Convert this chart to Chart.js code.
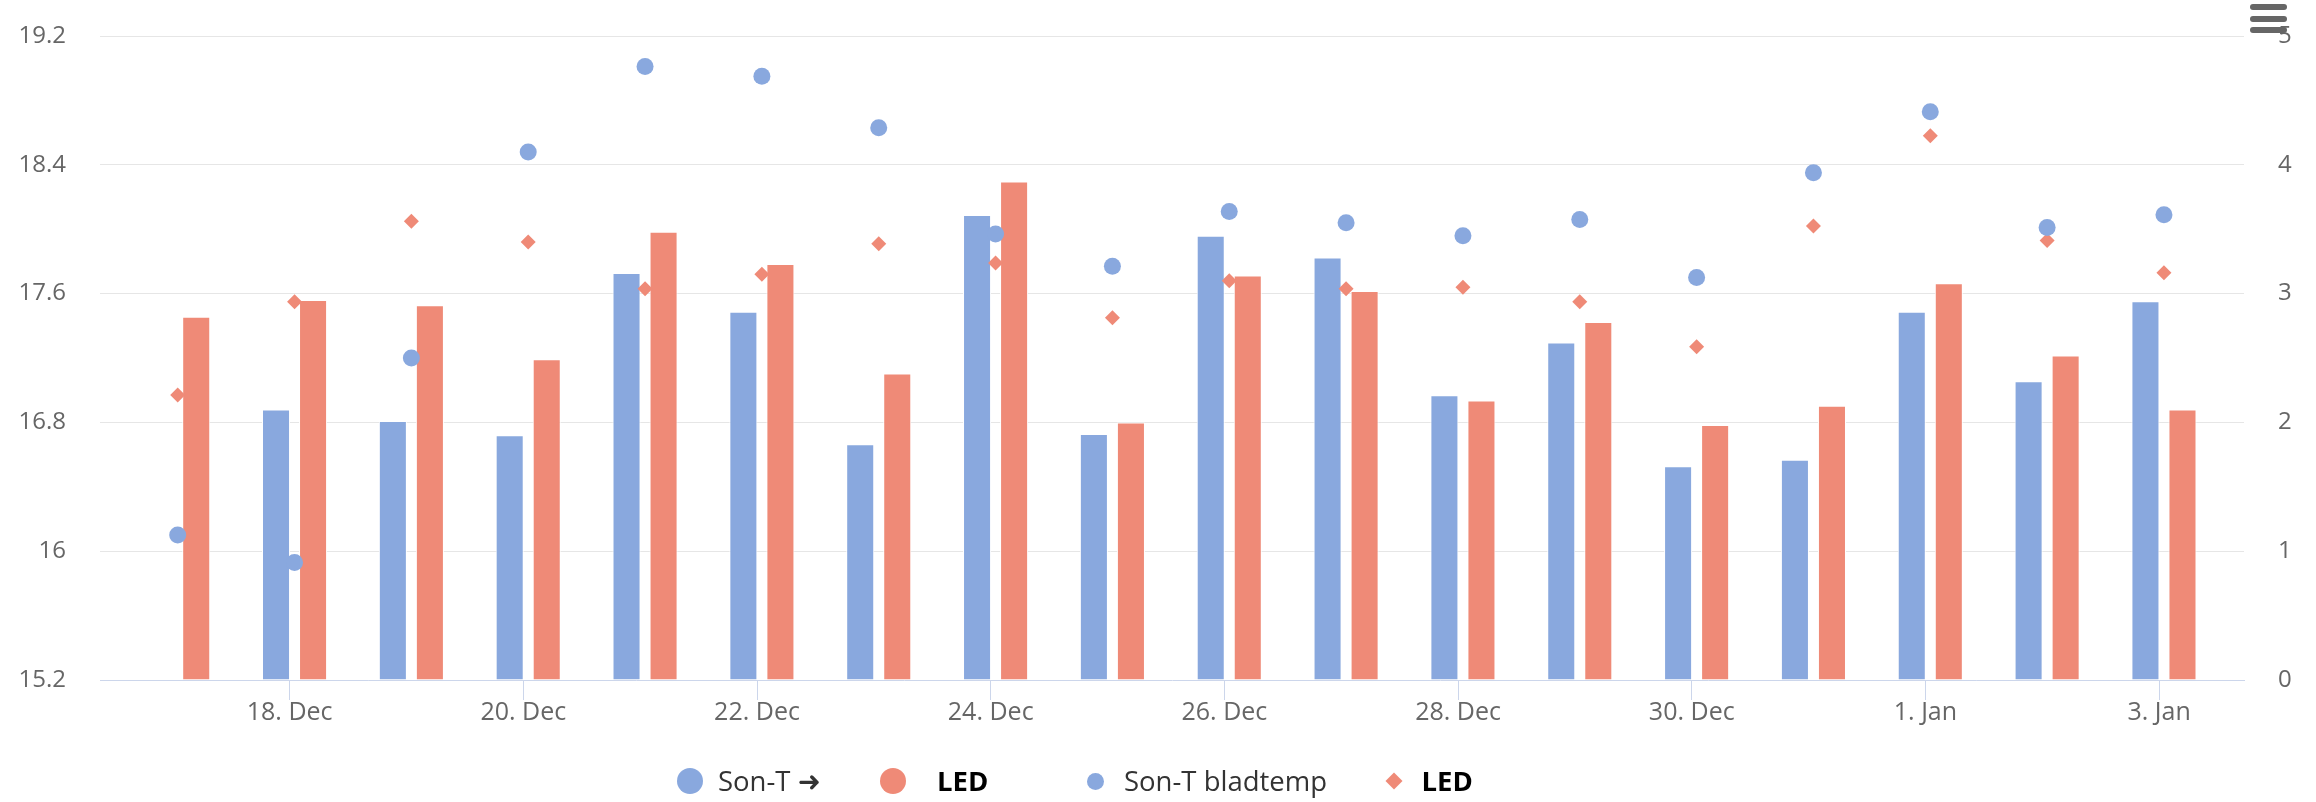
<!DOCTYPE html>
<html>
<head>
<meta charset="utf-8">
<title>Son-T / LED</title>
<script src="https://cdn.jsdelivr.net/npm/chart.js@4.4.1/dist/chart.umd.min.js"></script>
<style>
  html, body { margin: 0; padding: 0; background: #ffffff; }
  #wrap { position: relative; width: 2316px; height: 802px; overflow: hidden; font-family: 'Open Sans', 'DejaVu Sans', sans-serif; }
  #chart { position: absolute; left: 0; top: 0; }
  .lg-item { position: absolute; top: 767px; height: 28px; display: flex; align-items: center; white-space: nowrap; font-size: 27.5px; line-height: 28px; }
  .lg-sym { display: inline-block; flex: none; }
  #menu { position: absolute; left: 2250px; top: 4px; width: 37px; }
  #menu div { height: 6px; border-radius: 3px; background: #666666; margin-bottom: 5.5px; }
</style>
</head>
<body>
<div id="wrap">
  <canvas id="chart" width="2316" height="802"></canvas>
  <div id="legend"></div>
  <div id="menu"><div></div><div></div><div></div></div>
</div>
<script>
// Daily values, 17 Dec – 3 Jan
const days = ['17. Dec', '18. Dec', '19. Dec', '20. Dec', '21. Dec', '22. Dec', '23. Dec', '24. Dec', '25. Dec',
              '26. Dec', '27. Dec', '28. Dec', '29. Dec', '30. Dec', '31. Dec', '1. Jan', '2. Jan', '3. Jan'];

// Columns (right axis)
const sonTBars = [null, 2.10, 2.01, 1.90, 3.16, 2.86, 1.83, 3.61, 1.91, 3.45, 3.28, 2.21, 2.62, 1.66, 1.71, 2.86, 2.32, 2.94];
const ledBars  = [2.82, 2.95, 2.91, 2.49, 3.48, 3.23, 2.38, 3.87, 2.00, 3.14, 3.02, 2.17, 2.78, 1.98, 2.13, 3.08, 2.52, 2.10];

// Leaf temperature (left axis)
const sonTLeaf = [16.10, 15.93, 17.20, 18.48, 19.01, 18.95, 18.63, 17.97, 17.77, 18.11, 18.04, 17.96, 18.06, 17.70, 18.35, 18.73, 18.01, 18.09];
const ledLeaf  = [16.97, 17.55, 18.05, 17.92, 17.63, 17.72, 17.91, 17.79, 17.45, 17.68, 17.63, 17.64, 17.55, 17.27, 18.02, 18.58, 17.93, 17.73];

// Axis tick labels
const xTickLabels = ['18. Dec', '20. Dec', '22. Dec', '24. Dec', '26. Dec', '28. Dec', '30. Dec', '1. Jan', '3. Jan'];
const yLeftTicks  = ['15.2', '16', '16.8', '17.6', '18.4', '19.2'];
const yRightTicks = ['0', '1', '2', '3', '4', '5'];

const BLUE = '#89a8de';
const RED  = '#ef8a77';
const FONT = "'Open Sans', 'DejaVu Sans', sans-serif";
const NONE = 'rgba(0,0,0,0)';

// Points are stamped at local midnight (CET), the axis ticks sit on UTC midnight.
const TZ_SHIFT = 1 / 24;

const toPoints = vals => vals.map((v, i) => ({ x: i, y: v }));
const xTickValues = xTickLabels.map(l => days.indexOf(l) - TZ_SHIFT);

const chart = new Chart(document.getElementById('chart'), {
  type: 'bar',
  data: {
    datasets: [
      { type: 'bar', label: 'Son-T \u279C', data: toPoints(sonTBars), yAxisID: 'y2', order: 2,
        backgroundColor: BLUE, borderColor: '#ffffff', borderWidth: 1,
        categoryPercentage: 0.634, barPercentage: 0.757 },
      { type: 'bar', label: 'LED', data: toPoints(ledBars), yAxisID: 'y2', order: 2,
        backgroundColor: RED, borderColor: '#ffffff', borderWidth: 1,
        categoryPercentage: 0.634, barPercentage: 0.757 },
      { type: 'scatter', label: 'Son-T bladtemp', data: toPoints(sonTLeaf), yAxisID: 'y', order: 1,
        pointStyle: 'circle', pointRadius: 8.5, pointHoverRadius: 8.5,
        backgroundColor: BLUE, borderColor: BLUE, borderWidth: 0 },
      { type: 'scatter', label: 'LED', data: toPoints(ledLeaf), yAxisID: 'y', order: 1,
        pointStyle: 'rectRot', pointRadius: 7.5, pointHoverRadius: 7.5,
        backgroundColor: RED, borderColor: RED, borderWidth: 0 }
    ]
  },
  options: {
    responsive: false,
    animation: false,
    layout: { padding: { top: 36, bottom: 72, left: 0, right: 0 } },
    plugins: { legend: { display: false }, tooltip: { enabled: false } },
    scales: {
      x: {
        type: 'linear', min: -0.665, max: 17.685, offset: false,
        afterBuildTicks: s => { s.ticks = xTickValues.map(v => ({ value: v })); },
        afterFit: s => { s.height = 50; },
        ticks: { autoSkip: false, maxRotation: 0, padding: -2, color: '#666666',
                 font: { family: FONT, size: 25 },
                 callback: (v, i) => xTickLabels[i] },
        grid: { offset: false, drawOnChartArea: false, drawTicks: true, tickLength: 20, color: '#ccd6eb', lineWidth: 1 },
        border: { display: true, color: '#ccd6eb', width: 1 }
      },
      y: {
        type: 'linear', position: 'left', min: 15.2, max: 19.2,
        afterBuildTicks: s => { s.ticks = yLeftTicks.map(t => ({ value: parseFloat(t) })); },
        afterFit: s => { s.width = 100; },
        ticks: { padding: 0, color: '#666666', font: { family: FONT, size: 24 },
                 callback: (v, i) => yLeftTicks[i] },
        // the (invisible) tick marks keep the labels 34px off the plot
        grid: { drawTicks: true, tickLength: 34, tickColor: NONE, lineWidth: 1,
                color: ctx => ctx.index === 0 ? NONE : '#e6e6e6' },
        border: { display: false }
      },
      y2: {
        type: 'linear', position: 'right', min: 0, max: 5,
        afterBuildTicks: s => { s.ticks = yRightTicks.map(t => ({ value: parseFloat(t) })); },
        afterFit: s => { s.width = 72; },
        ticks: { padding: 0, color: '#666666', font: { family: FONT, size: 24 },
                 callback: (v, i) => yRightTicks[i] },
        grid: { drawOnChartArea: false, drawTicks: true, tickLength: 34, tickColor: NONE, color: NONE },
        border: { display: false }
      }
    }
  }
});

// Legend below the plot, built from the chart's datasets
const legendLeft = [677, 880, 1087, 1385];
const legendGap  = [15, 31, 20, 22];
const legendText = [
  { weight: 400, color: '#333333' },
  { weight: 700, color: '#000000' },
  { weight: 400, color: '#333333' },
  { weight: 700, color: '#000000' }
];
const legendBox = document.getElementById('legend');
chart.data.datasets.forEach((ds, i) => {
  const item = document.createElement('div');
  item.className = 'lg-item';
  item.style.left = legendLeft[i] + 'px';

  const sym = document.createElement('span');
  sym.className = 'lg-sym';
  sym.style.background = ds.backgroundColor;
  if (ds.type === 'bar') {
    sym.style.width = sym.style.height = '26px';
    sym.style.borderRadius = '50%';
  } else if (ds.pointStyle === 'circle') {
    sym.style.width = sym.style.height = '17px';
    sym.style.borderRadius = '50%';
  } else {
    sym.style.width = sym.style.height = '12px';
    sym.style.transform = 'rotate(45deg)';
    sym.style.margin = '0 2.5px';
  }

  const txt = document.createElement('span');
  txt.textContent = ds.label;
  txt.style.marginLeft = (legendGap[i] - (ds.pointStyle === 'rectRot' ? 2.5 : 0)) + 'px';
  txt.style.fontWeight = legendText[i].weight;
  txt.style.color = legendText[i].color;

  item.appendChild(sym);
  item.appendChild(txt);
  legendBox.appendChild(item);
});
</script>
</body>
</html>
